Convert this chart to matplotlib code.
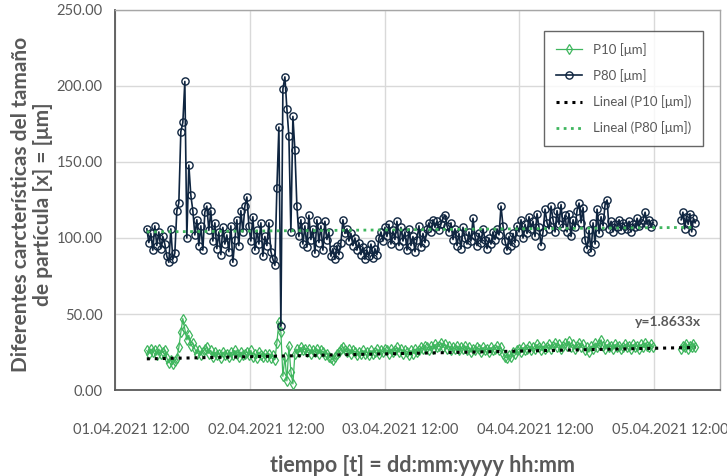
import numpy as np
import pandas as pd
import matplotlib
matplotlib.use("Agg")
import matplotlib.pyplot as plt
import matplotlib.dates as mdates
from matplotlib.transforms import ScaledTranslation

# ---------------- data ----------------
p80_main = [
    106, 97, 103, 92, 108, 95, 104, 93, 101, 96,
    88, 84, 106, 86, 90, 118, 123, 170, 176, 203,
    100, 148, 128, 118, 102, 112, 95, 108, 92, 117,
    121, 105, 118, 98, 110, 93, 104, 89, 107, 96,
    102, 91, 108, 84, 99, 112, 95, 118, 104, 121,
    127, 108, 98, 114, 92, 105, 96, 110, 88, 101,
    95, 110, 91, 86, 82, 133, 173, 42, 198, 206,
    185, 167, 104, 180, 158, 121, 101, 112, 96, 108,
    94, 115, 99, 106, 90, 112, 97, 108, 92, 111,
    99, 104, 88, 93, 86, 95, 89, 97, 112, 103,
    106, 98, 103, 95, 100, 92, 97, 89, 94, 86,
    92, 88, 96, 87, 93, 89, 100, 104, 98, 107,
    101, 109, 96, 105, 99, 111, 95, 107, 98, 104,
    92, 106, 95, 101, 91, 99, 108, 94, 103, 97,
    106, 110, 104, 112, 107, 111, 105, 109, 113, 115,
    108, 104, 110, 99, 106, 95, 103, 93, 107, 100,
    96, 104, 98, 113, 101, 95, 103, 97, 106, 99,
    93, 100, 96, 104, 99, 106, 102, 121, 108, 98,
    92, 101, 95, 103, 97, 108, 104, 112, 100, 109,
    103, 114, 106, 111, 101, 116, 107, 95, 104, 119,
    110, 106, 121, 112, 104, 118, 109, 122, 107, 115,
    104, 116, 101, 112, 107, 118, 123, 110, 120, 99,
    93, 105, 91, 110, 96, 119, 103, 114, 108, 122,
    125, 106, 111, 104, 109, 107, 112, 105, 110, 108,
    106, 111, 104, 109, 107, 113, 108, 110, 112, 117,
    109, 112, 107, 110,
]
p10_main = [
    26, 24, 27, 25, 26, 23, 27, 24, 25, 26,
    21, 18, 20, 17, 19, 21, 28, 38, 47, 40,
    33, 36, 29, 31, 27, 24, 26, 23, 25, 27,
    28, 24, 26, 22, 25, 23, 24, 21, 25, 23,
    24, 22, 25, 23, 26, 24, 22, 25, 23, 24,
    25, 23, 26, 22, 24, 21, 25, 23, 22, 24,
    22, 24, 21, 23, 20, 31, 45, 38, 9, 22,
    6, 29, 12, 4, 24, 27, 25, 28, 26, 27,
    25, 27, 24, 26, 25, 27, 24, 26, 25, 23,
    24, 22, 21, 20, 22, 24, 25, 27, 28, 26,
    25, 27, 24, 26, 25, 23, 25, 24, 26, 24,
    25, 23, 26, 24, 25, 27, 24, 26, 25, 27,
    26, 24, 27, 25, 26, 28, 25, 27, 24, 26,
    25, 23, 26, 24, 27, 25, 26, 28, 27, 29,
    28, 26, 29, 27, 30, 28, 29, 31, 28, 30,
    27, 29, 26, 28, 27, 29, 26, 28, 27, 29,
    26, 28, 25, 27, 26, 28, 27, 25, 28, 26,
    27, 25, 28, 26, 27, 29, 26, 28, 24, 22,
    21, 23, 22, 25, 24, 26, 27, 25, 28, 26,
    27, 29, 26, 28, 27, 30, 28, 26, 29, 27,
    28, 30, 27, 29, 31, 28, 30, 27, 29, 31,
    29, 32, 28, 30, 27, 29, 31, 28, 30, 26,
    28, 25, 29, 27, 31, 28, 30, 33, 29, 27,
    30, 28, 29, 27, 30, 28, 29, 27, 28, 30,
    28, 29, 27, 30, 28, 29, 27, 30, 28, 31,
    29, 28, 30, 28,
]
p80_tail = [112, 117, 106, 114, 109, 116, 104, 113, 110]
p10_tail = [27, 29, 28, 30, 27, 29, 28, 30, 28]

main_start, main_end = "2021-04-01 17:40", "2021-04-05 11:50"
tail_start, tail_end = "2021-04-05 16:50", "2021-04-05 19:20"
trend_p10 = [20.5, 28.0]
trend_p80 = [104.0, 107.0]
trend_label = "y=1.8633x"

x_min, x_max = "2021-04-01 12:00", "2021-04-05 23:45"
tick_times = ["2021-04-01 12:00", "2021-04-02 12:00", "2021-04-03 12:00",
              "2021-04-04 12:00", "2021-04-05 12:00"]
y_ticks = [0, 50, 100, 150, 200, 250]

# ---------------- styling ----------------
NAVY = "#0f2540"
GREEN = "#3fb65e"
GRAY = "#595959"
GRID = "#d9d9d9"

plt.rcParams['font.family'] = ['Lato', 'DejaVu Sans']

fig = plt.figure(figsize=(7.27, 4.76), dpi=100)
ax = fig.add_axes([115 / 727, 1 - 390 / 476, (720 - 115) / 727, 380 / 476])

t_main = pd.date_range(main_start, main_end, periods=len(p80_main))
t_tail = pd.date_range(tail_start, tail_end, periods=len(p80_tail))
gap_t = [t_main[-1] + (t_tail[0] - t_main[-1]) / 2]
t_all = list(t_main) + gap_t + list(t_tail)
p80_all = list(p80_main) + [np.nan] + list(p80_tail)
p10_all = list(p10_main) + [np.nan] + list(p10_tail)

ax.plot(t_all, p10_all, color=GREEN, lw=0.9, marker='d', ms=5.2,
        mfc='none', mec=GREEN, mew=0.9, label="P10 [μm]", zorder=3)
ax.plot(t_all, p80_all, color=NAVY, lw=1.2, marker='o', ms=5.2,
        mfc='none', mec=NAVY, mew=1.0, label="P80 [μm]", zorder=4)

t_trend = [pd.Timestamp(main_start), pd.Timestamp(tail_end)]
ax.plot(t_trend, trend_p10, color="black", lw=2.2, ls=(0, (1, 1.6)),
        label="Lineal (P10 [μm])", zorder=5)
ax.plot(t_trend, trend_p80, color=GREEN, lw=2.0, ls=(0, (1, 1.6)),
        label="Lineal (P80 [μm])", zorder=5)

ax.text(pd.Timestamp("2021-04-05 14:30"), 44.5, trend_label, color=GRAY,
        fontsize=10, fontweight='bold', ha='center', va='center')

ax.set_xlim(pd.Timestamp(x_min), pd.Timestamp(x_max))
ax.set_ylim(0, 250)
ax.set_yticks(y_ticks)
ax.yaxis.set_major_formatter(matplotlib.ticker.FormatStrFormatter('%.2f'))
ax.set_xticks([pd.Timestamp(t) for t in tick_times])
ax.xaxis.set_major_formatter(mdates.DateFormatter('%d.%m.%Y %H:%M'))
ax.grid(True, color=GRID, lw=1.0, zorder=0)
ax.set_axisbelow(True)
ax.tick_params(axis='both', length=0, labelsize=10.5, labelcolor=GRAY)
ax.tick_params(axis='x', pad=24)
ax.tick_params(axis='y', pad=9)
for lab in ax.get_xticklabels():
    lab.set_transform(lab.get_transform() + ScaledTranslation(0.16, 0, fig.dpi_scale_trans))

for s in ax.spines.values():
    s.set_color("#a6a6a6")
    s.set_linewidth(1.0)
ax.spines['left'].set_color("#595959")
ax.spines['bottom'].set_color("#595959")
ax.spines['left'].set_linewidth(1.3)
ax.spines['bottom'].set_linewidth(1.3)

leg = ax.legend(loc='upper right', bbox_to_anchor=((703 - 115) / 605, (390 - 31) / 380),
                borderaxespad=0, fontsize=9.5, frameon=True, fancybox=False,
                edgecolor="#404040", handlelength=2.0, labelspacing=1.0,
                borderpad=0.9, handletextpad=0.8)
leg.get_frame().set_linewidth(1.0)
for txt in leg.get_texts():
    txt.set_color(GRAY)

fig.text(32 / 727, 1 - 204 / 476,
         "Diferentes carcterísticas del tamaño\nde partícula [x] = [μm]",
         rotation=90, ha='center', va='center', fontsize=15, fontweight='bold',
         color=GRAY, linespacing=1.15)
fig.text(422 / 727, 1 - 465 / 476, "tiempo [t] = dd:mm:yyyy hh:mm",
         ha='center', va='center', fontsize=15.5, fontweight='bold', color=GRAY)

fig.savefig("out.png", dpi=100)
